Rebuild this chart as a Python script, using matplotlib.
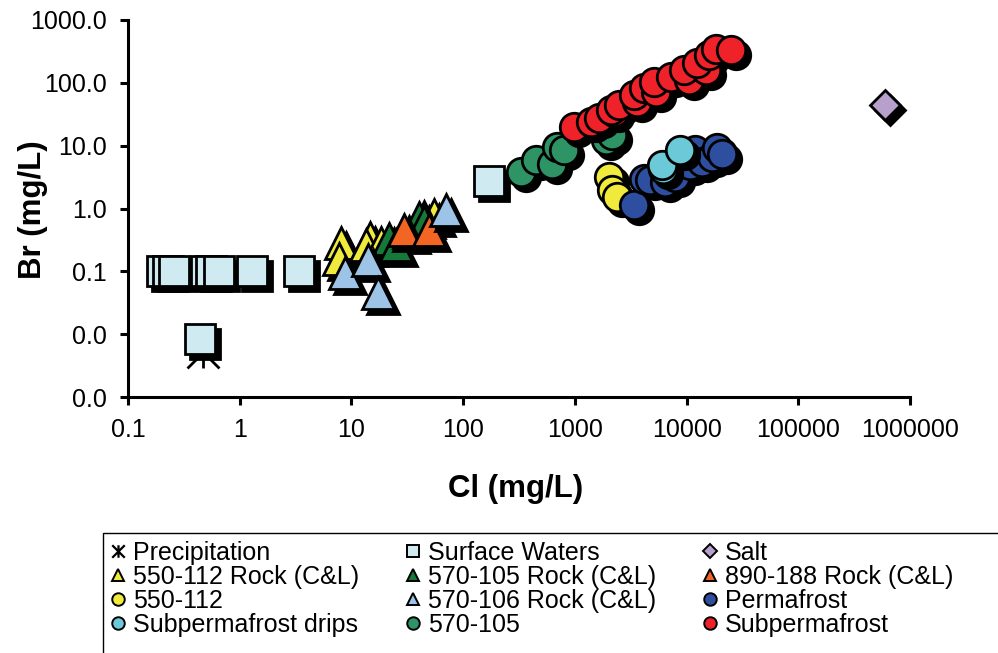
import matplotlib
matplotlib.use("Agg")
import matplotlib.pyplot as plt
from matplotlib.lines import Line2D
from matplotlib.patches import Rectangle
from matplotlib.path import Path
from matplotlib.transforms import offset_copy
from matplotlib.ticker import FixedLocator, FuncFormatter, NullLocator

plt.rcParams['font.family'] = ['Liberation Sans', 'DejaVu Sans']

# ---- Cl / Br concentrations (mg/L) ----
precip_cl = [0.47]
precip_br = [0.0052]

surface_cl = [0.20, 0.23, 0.26, 0.50, 0.55, 0.65, 1.28, 3.4, 0.44, 170]
surface_br = [0.102, 0.102, 0.102, 0.102, 0.102, 0.102, 0.102, 0.102, 0.0083, 2.7]

salt_cl = [600000]
salt_br = [45]

rock_550_112_cl = [8.1, 7.8, 14.5, 13.6, 18.4, 45, 55]
rock_550_112_br = [0.28, 0.16, 0.34, 0.26, 0.28, 0.72, 0.80]

rock_570_105_cl = [21.8, 25, 33, 40.5, 45]
rock_570_105_br = [0.33, 0.26, 0.42, 0.70, 0.62]

rock_890_188_cl = [29.7, 49.7]
rock_890_188_br = [0.45, 0.45]

w550_112_cl = [2010, 2150, 2370]
w550_112_br = [3.2, 1.96, 1.52]

rock_570_106_cl = [8.7, 14.0, 17.2, 70]
rock_570_106_br = [0.093, 0.151, 0.0445, 0.94]

permafrost_cl = [3360, 4130, 4740, 6450, 7920, 10700, 11900, 13700, 16800, 18600, 20600]
permafrost_br = [1.13, 3.0, 2.83, 2.66, 3.2, 4.9, 8.5, 5.5, 6.65, 9.06, 7.5]

drips_cl = [6200, 6030, 8790]
drips_br = [4.3, 4.9, 8.5]

w570_105_cl = [327, 446, 627, 695, 798, 1880, 2140]
w570_105_br = [3.84, 5.9, 5.2, 9.6, 8.5, 12.3, 14.7]

subperm_cl = [980, 1390, 1640, 2230, 2100, 2470, 3580, 3360, 4130, 5290, 5070,
              7190, 10400, 9400, 14800, 12300, 15700, 18500, 25000]
subperm_br = [20, 24, 27.5, 34, 37, 44, 49, 64, 83, 71, 103,
              124, 111, 160, 160, 207, 277, 350, 335]

x_ticks = [0.1, 1, 10, 100, 1000, 10000, 100000, 1000000]
y_ticks = [0.001, 0.01, 0.1, 1, 10, 100, 1000]

# Excel-style star: X plus a vertical bar
star = Path([(0, -1), (0, 1), (-1, -1), (1, 1), (-1, 1), (1, -1)],
            [Path.MOVETO, Path.LINETO, Path.MOVETO, Path.LINETO, Path.MOVETO, Path.LINETO])

series = [
    ("Precipitation", precip_cl, precip_br, star, "black", 23, False),
    ("Surface Waters", surface_cl, surface_br, "s", "#CFEAF0", 21, True),
    ("Salt", salt_cl, salt_br, "D", "#B8A0CC", 15.5, True),
    ("550-112 Rock (C&L)", rock_550_112_cl, rock_550_112_br, "^", "#EFEA3C", 23, True),
    ("570-105 Rock (C&L)", rock_570_105_cl, rock_570_105_br, "^", "#16793A", 23, True),
    ("890-188 Rock (C&L)", rock_890_188_cl, rock_890_188_br, "^", "#F26522", 23, True),
    ("550-112", w550_112_cl, w550_112_br, "o", "#EFEA3C", 20.5, True),
    ("570-106 Rock (C&L)", rock_570_106_cl, rock_570_106_br, "^", "#9DC3E6", 23, True),
    ("Permafrost", permafrost_cl, permafrost_br, "o", "#2E4FA0", 20.5, True),
    ("Subpermafrost drips", drips_cl, drips_br, "o", "#6CCAD8", 20.5, True),
    ("570-105", w570_105_cl, w570_105_br, "o", "#2E9466", 20.5, True),
    ("Subpermafrost", subperm_cl, subperm_br, "o", "#EE2228", 20.5, True),
]

fig = plt.figure(figsize=(9.98, 6.53), dpi=100)
ax = fig.add_axes([0.1283, 0.392, 0.7836, 0.5774])
ax.set_xscale('log')
ax.set_yscale('log')
ax.set_xlim(0.1, 1e6)
ax.set_ylim(1e-3, 1e3)

shadow_tr = offset_copy(ax.transData, fig=fig, x=5, y=-5, units='dots')

handles = []
for label, cl, br, mk, col, ms, shadow in series:
    if shadow:
        ax.plot(cl, br, ls='none', marker=mk, ms=ms, mfc='black', mec='black',
                mew=2.0, transform=shadow_tr, clip_on=False)
    ax.plot(cl, br, ls='none', marker=mk, ms=ms, mfc=col, mec='black',
            mew=2.0, clip_on=False)
    lms = 9 if mk != "D" else 7
    handles.append(Line2D([], [], ls='none', marker=mk, ms=lms, mfc=col,
                          mec='black', mew=1.4 if mk is not star else 1.6,
                          label=label))

for side in ('top', 'right'):
    ax.spines[side].set_visible(False)
for side in ('left', 'bottom'):
    ax.spines[side].set_linewidth(2.2)

ax.xaxis.set_major_locator(FixedLocator(x_ticks))
ax.yaxis.set_major_locator(FixedLocator(y_ticks))
ax.xaxis.set_minor_locator(NullLocator())
ax.yaxis.set_minor_locator(NullLocator())
ax.xaxis.set_major_formatter(FuncFormatter(lambda v, p: "0.1" if v < 1 else f"{int(round(v))}"))
ax.yaxis.set_major_formatter(FuncFormatter(lambda v, p: f"{v:.1f}"))
ax.tick_params(axis='both', which='major', direction='out', length=6, width=2.2,
               labelsize=18, colors='black')
ax.tick_params(axis='y', pad=9)
ax.tick_params(axis='x', pad=9)

ax.set_xlabel("Cl (mg/L)", fontsize=22.5, fontweight='bold')
ax.set_ylabel("Br (mg/L)", fontsize=22.5, fontweight='bold')
ax.xaxis.set_label_coords(0.496, -0.205)
ax.yaxis.set_label_coords(-0.102, 0.496)

# legend laid out row-wise in three columns
order = [0, 3, 6, 9, 1, 4, 7, 10, 2, 5, 8, 11]
leg = fig.legend([handles[i] for i in order], [handles[i].get_label() for i in order],
                 ncol=3, loc='upper left', bbox_to_anchor=(0.111, 0.172),
                 frameon=False, fontsize=18, handlelength=0.6, handletextpad=0.3,
                 columnspacing=1.85, labelspacing=0.0, borderpad=0, borderaxespad=0)

fig.add_artist(Rectangle((103 / 998, -0.1), 1.0, (653 - 533) / 653 + 0.1,
                         transform=fig.transFigure, fill=False, edgecolor='black',
                         linewidth=1.0, clip_on=False))

fig.savefig("out.png", dpi=100)
